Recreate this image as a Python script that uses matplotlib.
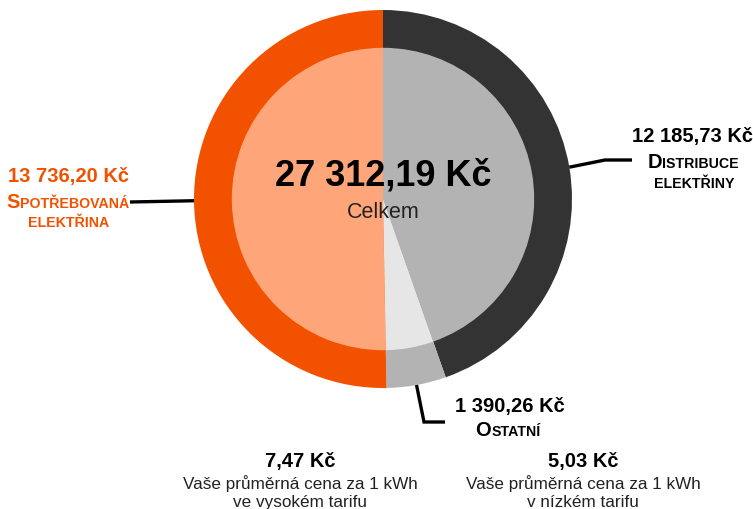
import numpy as np
import matplotlib
matplotlib.use("Agg")
import matplotlib.pyplot as plt

plt.rcParams['font.family'] = ['Liberation Sans', 'DejaVu Sans']

# --- data ---
categories = ['Distribuce elektřiny', 'Ostatní', 'Spotřebovaná elektřina']
values = [12185.73, 1390.26, 13736.20]
value_labels = ['12 185,73 Kč', '1 390,26 Kč', '13 736,20 Kč']
total_label = '27 312,19 Kč'
tariff_prices = ['7,47 Kč', '5,03 Kč']
tariff_texts = ['Vaše průměrná cena za 1 kWh\nve vysokém tarifu',
                'Vaše průměrná cena za 1 kWh\nv nízkém tarifu']

outer_colors = ['#333333', '#b3b3b3', '#f25100']
inner_colors = ['#b3b3b3', '#e6e6e6', '#ffa57a']
ORANGE = '#f25100'

W, H = 753, 510
fig = plt.figure(figsize=(W / 100, H / 100), dpi=100)

# pie axes: centre (383, 200) px, radius 189 px
cx, cy, r = 383, 200, 189
ax_pie = fig.add_axes([(cx - r) / W, (H - cy - r) / H, 2 * r / W, 2 * r / H])
wedges, _ = ax_pie.pie(values, colors=outer_colors, startangle=90, counterclock=False,
                       radius=1.0, wedgeprops=dict(linewidth=0))
ax_pie.pie(values, colors=inner_colors, startangle=90, counterclock=False,
           radius=0.8, wedgeprops=dict(linewidth=0))
ax_pie.set_xlim(-1, 1)
ax_pie.set_ylim(-1, 1)

# overlay axes in pixel coordinates (y down)
ax = fig.add_axes([0, 0, 1, 1])
ax.set_xlim(0, W)
ax.set_ylim(H, 0)
ax.axis('off')

renderer = fig.canvas.get_renderer()


def smallcaps(x, y, word, color, big=14.5, small=10.2):
    """Draw a centered small-caps word: first letter big, the rest small capitals."""
    parts = []
    for i, ch in enumerate(word):
        if i == 0 and ch.isupper():
            parts.append((ch, big))
        else:
            parts.append((ch.upper(), small))
    # merge runs of same size
    runs = []
    for s, sz in parts:
        if runs and runs[-1][1] == sz:
            runs[-1][0] += s
        else:
            runs.append([s, sz])
    texts = [ax.text(0, y, s, fontsize=sz, fontweight='bold', color=color,
                     ha='left', va='baseline') for s, sz in runs]
    inv = ax.transData.inverted()
    widths = []
    for t in texts:
        bb = t.get_window_extent(renderer)
        x0 = inv.transform((bb.x0, bb.y0))[0]
        x1 = inv.transform((bb.x1, bb.y0))[0]
        widths.append(x1 - x0)
    pos = x - sum(widths) / 2
    for t, w in zip(texts, widths):
        t.set_x(pos)
        pos += w


def mid_point(w):
    th = np.deg2rad((w.theta1 + w.theta2) / 2)
    disp = ax_pie.transData.transform((np.cos(th), np.sin(th)))
    return ax.transData.inverted().transform(disp)


# centre text
ax.text(cx, 176, total_label, fontsize=26, fontweight='bold', color='black',
        ha='center', va='center')
ax.text(cx, 213, 'Celkem', fontsize=15.5, color='#222222', ha='center', va='center')

# leader lines
lw = 2.4
p = mid_point(wedges[2])
ax.plot([p[0], 130], [p[1], 203], color='black', lw=lw, solid_capstyle='butt')
p = mid_point(wedges[0])
ax.plot([p[0], 605, 632], [p[1], 161, 161], color='black', lw=lw,
        solid_capstyle='butt', solid_joinstyle='miter')
p = mid_point(wedges[1])
ax.plot([p[0], 424, 445], [p[1], 423, 423], color='black', lw=lw,
        solid_capstyle='butt', solid_joinstyle='miter')

# labels
ax.text(69, 177, value_labels[2], fontsize=14.5, fontweight='bold', color=ORANGE,
        ha='center', va='center')
smallcaps(68, 208, 'Spotřebovaná', ORANGE)
smallcaps(69, 227, 'elektřina', ORANGE)

ax.text(693, 137, value_labels[0], fontsize=14.5, fontweight='bold', color='black',
        ha='center', va='center')
smallcaps(693, 168, 'Distribuce', 'black')
smallcaps(694, 188, 'elektřiny', 'black')

ax.text(510, 407, value_labels[1], fontsize=14.5, fontweight='bold', color='black',
        ha='center', va='center')
smallcaps(508, 436, 'Ostatní', 'black')

# tariff info
for xc, price, txt in zip([300, 583], tariff_prices, tariff_texts):
    ax.text(xc, 462, price, fontsize=14.5, fontweight='bold', color='black',
            ha='center', va='center')
    ax.text(xc, 475, txt, fontsize=12.3, color='#222222', ha='center', va='top',
            linespacing=1.28)

fig.savefig('out.png', dpi=100)
